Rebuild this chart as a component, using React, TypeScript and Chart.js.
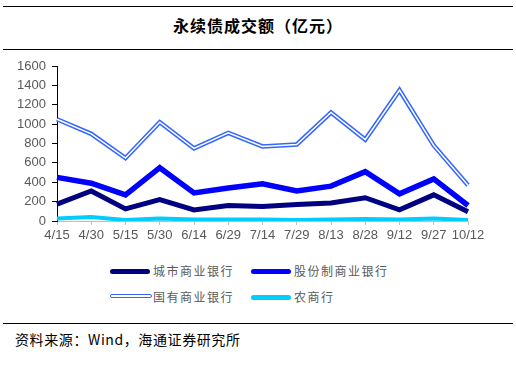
import React, { useEffect, useRef } from "react";
import { Chart, registerables } from "chart.js";

Chart.register(...registerables);

const categories = ["4/15", "4/30", "5/15", "5/30", "6/14", "6/29", "7/14", "7/29", "8/13", "8/28", "9/12", "9/27", "10/12"];
const cityBank = [175, 310, 125, 220, 115, 160, 150, 170, 185, 240, 115, 270, 95];
const jointStock = [450, 390, 270, 550, 290, 340, 385, 310, 360, 510, 280, 435, 160];
const stateOwned = [1050, 900, 650, 1020, 750, 910, 770, 790, 1120, 840, 1350, 780, 370];
const ruralBank = [25, 40, 10, 25, 15, 15, 15, 10, 15, 20, 15, 25, 10];
const seriesNames = ["城市商业银行", "股份制商业银行", "国有商业银行", "农商行"];
const yMin = 0;
const yMax = 1600;
const yStep = 200;

const NAVY = "#000080";
const BLUE = "#0000FF";
const ROYAL = "#3366FF";
const CYAN = "#00CCFF";

const CJK = '"Noto Sans CJK SC", "Noto Sans", sans-serif';
const LATIN = '"Liberation Sans", Arial, sans-serif';

export default function App() {
  const ref = useRef<HTMLCanvasElement | null>(null);

  useEffect(() => {
    if (!ref.current) return;
    const chart = new Chart(ref.current, {
      type: "line",
      data: {
        labels: categories,
        datasets: [
          { label: seriesNames[0], data: cityBank, borderColor: NAVY, borderWidth: 5, pointRadius: 0, tension: 0, order: 3 },
          { label: seriesNames[1], data: jointStock, borderColor: BLUE, borderWidth: 5.5, pointRadius: 0, tension: 0, order: 2 },
          { label: seriesNames[2], data: stateOwned, borderColor: ROYAL, borderWidth: 4.5, pointRadius: 0, tension: 0, order: 1 },
          { label: "_inner", data: stateOwned, borderColor: "#FFFFFF", borderWidth: 1.5, pointRadius: 0, tension: 0, order: 0 },
          { label: seriesNames[3], data: ruralBank, borderColor: CYAN, borderWidth: 4, pointRadius: 0, tension: 0, order: 4 },
        ],
      },
      options: {
        animation: false,
        responsive: false,
        maintainAspectRatio: false,
        layout: { padding: { left: 0, right: 48, top: 16, bottom: 0 } },
        plugins: { legend: { display: false }, tooltip: { enabled: false }, title: { display: false } },
        elements: { line: { borderCapStyle: "butt", borderJoinStyle: "miter" } },
        scales: {
          x: {
            offset: false,
            grid: { display: true, drawOnChartArea: false, drawTicks: true, tickLength: 4, color: "#BFBFBF" },
            border: { display: true, color: "#BFBFBF", width: 1 },
            ticks: { color: "#595959", font: { family: LATIN, size: 13 }, padding: 3, maxRotation: 0, autoSkip: false },
            afterFit: (s: any) => { s.height = 34; },
          },
          y: {
            min: yMin,
            max: yMax,
            grid: { display: true, drawOnChartArea: false, drawTicks: true, tickLength: 5, color: "#000" },
            border: { display: true, color: "#000", width: 1 },
            ticks: {
              stepSize: yStep,
              color: "#595959",
              font: { family: LATIN, size: 13 },
              padding: 6,
              callback: (v: any) => String(v),
            },
            afterFit: (s: any) => { s.width = 57; },
          },
        },
      },
    });
    return () => chart.destroy();
  }, []);

  const legendItems = [
    { name: seriesNames[0], color: NAVY, x: 110, y: 271, dbl: false },
    { name: seriesNames[1], color: BLUE, x: 251, y: 271, dbl: false },
    { name: seriesNames[2], color: ROYAL, x: 110, y: 297, dbl: true },
    { name: seriesNames[3], color: CYAN, x: 251, y: 297, dbl: false },
  ];

  return (
    <div style={{ position: "absolute", left: 0, top: 0, width: 516, height: 374, background: "#fff", overflow: "hidden" }}>
      <div style={{ position: "absolute", left: 3, top: 6, width: 510, height: 1, background: "#000" }} />
      <div style={{ position: "absolute", left: 0, top: 13, width: 516, textAlign: "center", fontFamily: CJK, fontSize: 16, fontWeight: 700, lineHeight: "24px", letterSpacing: 1, color: "#000" }}>
        永续债成交额（亿元）
      </div>
      <div style={{ position: "absolute", left: 3, top: 49, width: 510, height: 1, background: "#000" }} />
      <canvas ref={ref} width={516} height={205} style={{ position: "absolute", left: 0, top: 50, width: 516, height: 205 }} />
      {legendItems.map((it) => (
        <div key={it.name}>
          {it.dbl ? (
            <div style={{ position: "absolute", left: it.x, top: it.y - 3, width: 40, height: 2, border: `1.5px solid ${it.color}`, borderRadius: 3, background: "#fff", boxSizing: "content-box" }} />
          ) : (
            <div style={{ position: "absolute", left: it.x, top: it.y - 2.5, width: 40, height: 5, borderRadius: 3, background: it.color }} />
          )}
          <div style={{ position: "absolute", left: it.x + 43, top: it.y - 9, fontFamily: CJK, fontSize: 12, lineHeight: "18px", letterSpacing: 1.5, color: "#595959", whiteSpace: "nowrap" }}>
            {it.name}
          </div>
        </div>
      ))}
      <div style={{ position: "absolute", left: 3, top: 323, width: 510, height: 1, background: "#000" }} />
      <div style={{ position: "absolute", left: 15, top: 329, fontFamily: CJK, fontSize: 14, lineHeight: "20px", letterSpacing: 0.6, color: "#000", whiteSpace: "nowrap" }}>
        资料来源：Wind，海通证券研究所
      </div>
    </div>
  );
}
